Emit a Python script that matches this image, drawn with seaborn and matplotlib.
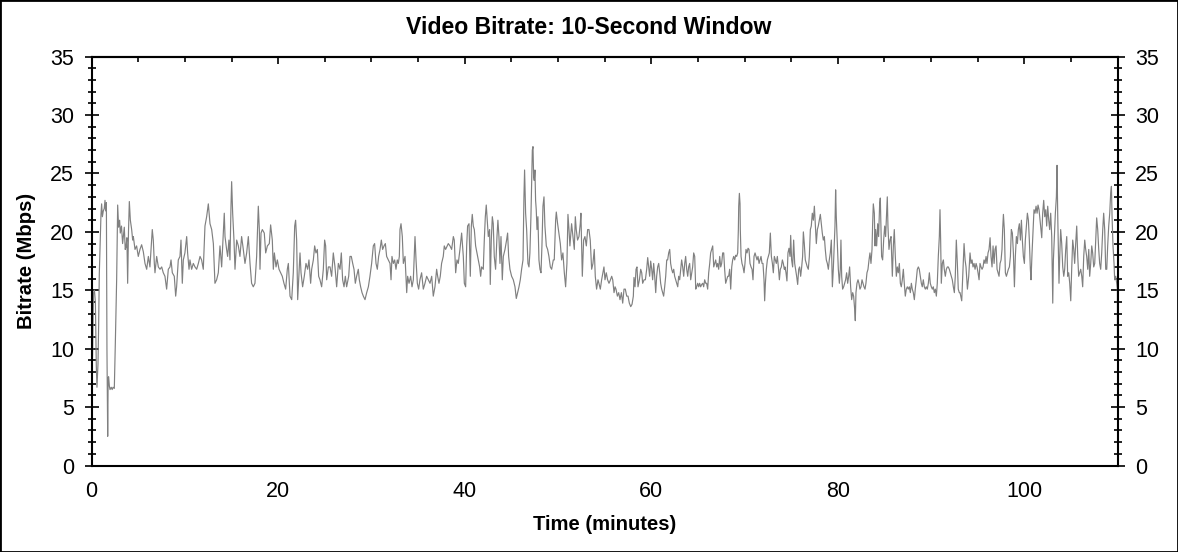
import numpy as np
import pandas as pd
import matplotlib
matplotlib.use("Agg")
import matplotlib.pyplot as plt
import seaborn as sns
from matplotlib.ticker import MultipleLocator
from matplotlib.patches import Rectangle

sns.set_theme(style="white")
plt.rcParams["font.family"] = ["Liberation Sans", "DejaVu Sans"]

# bitrate samples, split in six stretches of the film
minutes_a = [0.0, 0.1, 0.2, 0.3, 0.4, 0.5, 0.57, 0.68, 0.75, 0.82, 0.93, 1.0, 1.07, 1.15, 1.25, 1.35, 1.43, 1.5, 1.58, 1.64,
             1.72, 1.77, 1.82, 1.9, 1.97, 2.1, 2.2, 2.3, 2.43, 2.54, 2.68, 2.79, 2.89, 3.0, 3.07, 3.2, 3.32, 3.5, 3.6, 3.68,
             3.78, 3.86, 3.95, 4.04, 4.15, 4.29, 4.40, 4.47, 4.65, 4.82, 5.0, 5.18, 5.36, 5.54, 5.72, 5.9, 6.08, 6.25, 6.5, 6.61,
             6.72, 6.79, 6.97, 7.15, 7.33, 7.51, 7.68, 7.86, 8.04, 8.22, 8.4, 8.51, 8.65, 8.86, 9.01, 9.11, 9.29, 9.47, 9.58, 9.72,
             9.83, 10.0, 10.19, 10.29, 10.44, 10.54, 10.72, 10.9, 11.08, 11.26, 11.44, 11.62, 11.79, 11.97, 12.15, 12.33, 12.51, 12.69, 12.87, 13.05,
             13.22, 13.4, 13.58, 13.76, 13.94, 14.12, 14.22, 14.3, 14.47, 14.58, 14.72, 14.83, 14.94, 15.01, 15.12, 15.26, 15.37, 15.55, 15.73, 15.9,
             16.08, 16.26, 16.44, 16.62, 16.8, 16.98, 17.15, 17.33, 17.51, 17.69, 17.8, 17.87, 17.98, 18.05, 18.16, 18.3, 18.51]
mbps_a = [7.0, 9.5, 14.8, 15.0, 14.0, 8.5, 6.7, 8.7, 12.0, 16.4, 19.6, 21.5, 22.4, 21.3, 21.8, 22.0, 22.7, 21.8, 22.5, 10.0,
          2.5, 7.5, 7.6, 6.8, 6.5, 6.7, 6.5, 6.7, 6.6, 10.5, 15.9, 22.3, 20.4, 21.0, 19.9, 20.5, 19.0, 20.4, 18.5, 18.7,
          19.5, 15.6, 20.0, 22.6, 21.0, 20.2, 19.3, 19.6, 18.5, 18.8, 17.9, 18.5, 18.9, 18.3, 17.3, 16.8, 17.9, 17.0, 20.2, 19.3,
          17.3, 16.5, 17.9, 17.0, 16.8, 17.0, 16.5, 16.2, 15.1, 16.8, 17.0, 17.6, 16.5, 16.2, 14.5, 15.3, 17.6, 17.9, 19.3, 15.6,
          17.6, 18.2, 19.6, 18.2, 16.8, 17.6, 16.8, 17.3, 17.0, 16.8, 17.3, 17.9, 17.6, 16.8, 20.5, 21.3, 22.4, 20.7, 20.2, 19.0,
          15.6, 15.9, 16.5, 18.8, 17.0, 19.9, 21.6, 19.6, 18.5, 17.9, 19.3, 17.6, 22.2, 24.3, 21.6, 19.3, 16.8, 19.3, 18.8, 17.9,
          19.6, 18.5, 17.3, 18.2, 19.6, 17.3, 15.6, 15.3, 15.6, 17.9, 20.5, 22.2, 20.2, 16.8, 19.9, 20.2, 19.9]

minutes_b = [18.66, 18.84, 19.05, 19.19, 19.37, 19.48, 19.59, 19.77, 19.91, 20.09, 20.27, 20.44, 20.62, 20.8, 20.98, 21.09, 21.27, 21.45, 21.62, 21.77,
             21.87, 21.98, 22.09, 22.23, 22.34, 22.45, 22.62, 22.8, 22.98, 23.16, 23.3, 23.48, 23.59, 23.77, 23.91, 24.05, 24.2, 24.34, 24.48, 24.66,
             24.84, 24.98, 25.09, 25.2, 25.38, 25.56, 25.73, 25.91, 26.09, 26.27, 26.45, 26.63, 26.77, 26.91, 27.06, 27.2, 27.34, 27.56, 27.7, 27.84,
             27.99, 28.13, 28.27, 28.41, 28.59, 28.7, 28.84, 28.99, 29.13, 29.31, 29.49, 29.67, 29.84, 30.02, 30.2, 30.34, 30.49, 30.63, 30.77, 30.92,
             31.06, 31.2, 31.35, 31.49, 31.63, 31.81, 31.99, 32.1, 32.2, 32.35, 32.49, 32.63, 32.77, 32.88, 32.99, 33.06, 33.17, 33.31, 33.42, 33.6,
             33.78, 33.88, 34.03, 34.2, 34.35, 34.49, 34.67, 34.78, 34.92, 35.06, 35.2, 35.38, 35.56, 35.74, 35.92, 36.1, 36.28, 36.46, 36.63]
mbps_b = [18.2, 18.8, 19.0, 20.6, 19.3, 16.8, 18.2, 17.0, 17.6, 16.8, 16.5, 16.2, 15.6, 15.1, 16.8, 17.3, 14.5, 14.2, 16.5, 20.5,
          21.0, 19.3, 14.2, 16.5, 18.2, 16.5, 15.3, 16.2, 17.3, 16.8, 17.6, 15.6, 16.8, 17.6, 18.8, 18.2, 18.5, 16.2, 15.9, 15.3,
          16.8, 19.3, 18.8, 15.9, 17.0, 17.0, 16.2, 18.2, 17.0, 15.3, 17.3, 16.8, 18.2, 15.9, 15.3, 16.2, 15.3, 16.2, 17.9, 17.9,
          17.3, 16.8, 15.6, 16.2, 16.8, 15.9, 15.3, 14.8, 14.5, 14.2, 14.8, 15.3, 16.2, 17.3, 18.8, 19.0, 17.3, 16.8, 17.9, 18.5,
          19.3, 18.5, 18.8, 19.0, 17.9, 17.6, 17.3, 15.9, 17.9, 17.3, 17.6, 16.8, 17.6, 17.3, 17.9, 20.2, 20.7, 19.6, 17.3, 17.9,
          14.8, 16.2, 15.6, 16.2, 15.3, 15.9, 19.6, 17.6, 15.6, 15.1, 15.9, 16.5, 15.1, 15.6, 16.2, 15.9, 15.6, 16.2, 14.5]

minutes_c = [36.81, 36.99, 37.1, 37.24, 37.38, 37.52, 37.7, 37.81, 37.95, 38.13, 38.24, 38.42, 38.6, 38.78, 38.88, 39.03, 39.17, 39.31, 39.49, 39.67,
             39.85, 39.96, 40.1, 40.21, 40.31, 40.46, 40.6, 40.71, 40.81, 40.92, 41.03, 41.17, 41.31, 41.46, 41.6, 41.71, 41.81, 41.99, 42.1, 42.21,
             42.31, 42.42, 42.53, 42.67, 42.74, 42.85, 42.96, 43.06, 43.17, 43.31, 43.46, 43.56, 43.67, 43.78, 43.89, 44.03, 44.14, 44.32, 44.49, 44.6,
             44.71, 44.85, 45.03, 45.21, 45.39, 45.53, 45.67, 45.82, 45.96, 46.1, 46.25, 46.35, 46.42, 46.53, 46.64, 46.78, 46.89, 46.99, 47.1, 47.17,
             47.25, 47.32, 47.39, 47.46, 47.53, 47.6, 47.67, 47.75, 47.85, 47.96, 48.07, 48.18, 48.28, 48.39, 48.5, 48.6, 48.75, 48.89, 49.03, 49.18,
             49.32, 49.5, 49.6, 49.75, 49.82, 49.96, 50.1, 50.25, 50.39, 50.53, 50.68, 50.82, 50.96, 51.07, 51.18, 51.28, 51.46, 51.61, 51.75, 51.86,
             51.96, 52.1, 52.25, 52.39, 52.46, 52.61, 52.75, 52.89, 53.04, 53.18, 53.32, 53.46, 53.61, 53.75, 53.89, 54.0, 54.14, 54.29, 54.39, 54.54,
             54.68, 54.82, 54.93, 55.04, 55.18, 55.32, 55.47]
mbps_c = [15.3, 16.8, 16.2, 15.6, 16.2, 17.3, 17.9, 18.8, 18.5, 18.8, 19.0, 18.8, 18.5, 19.6, 19.3, 16.5, 17.6, 17.3, 18.5, 19.9,
          17.9, 15.6, 15.3, 18.8, 20.5, 20.7, 16.2, 20.5, 21.5, 20.5, 20.2, 18.8, 18.2, 17.6, 17.0, 16.2, 17.0, 16.8, 19.3, 21.3,
          22.3, 21.0, 19.6, 20.2, 15.5, 19.3, 21.3, 20.7, 17.9, 16.8, 19.6, 21.0, 19.6, 17.3, 19.6, 15.9, 17.9, 18.5, 19.3, 19.9,
          17.9, 16.8, 16.2, 15.9, 15.3, 14.3, 14.8, 15.3, 15.9, 16.8, 17.6, 23.0, 25.3, 21.6, 20.2, 17.3, 17.0, 18.2, 21.3, 24.1,
          27.0, 27.3, 24.7, 24.4, 25.3, 22.7, 21.9, 20.2, 21.3, 17.6, 16.8, 16.5, 18.8, 22.2, 23.0, 20.5, 18.8, 18.5, 17.9, 17.0,
          16.8, 17.6, 17.6, 21.0, 21.7, 20.7, 19.9, 19.0, 17.6, 18.2, 16.5, 15.3, 17.3, 21.5, 20.2, 18.8, 20.7, 19.6, 18.5, 21.3,
          20.2, 19.3, 19.6, 20.7, 21.6, 16.2, 19.3, 19.6, 18.8, 20.2, 20.2, 19.3, 16.8, 17.3, 18.5, 16.2, 15.1, 15.9, 15.6, 15.1,
          15.9, 16.5, 17.0, 15.9, 16.5, 15.9, 15.6]

minutes_d = [55.58, 55.76, 55.87, 56.01, 56.12, 56.22, 56.37, 56.51, 56.65, 56.8, 56.94, 57.08, 57.22, 57.37, 57.51, 57.65, 57.8, 57.94, 58.08, 58.15,
             58.26, 58.37, 58.47, 58.58, 58.73, 58.87, 58.98, 59.08, 59.23, 59.37, 59.51, 59.62, 59.73, 59.83, 59.94, 60.05, 60.15, 60.26, 60.37, 60.48,
             60.58, 60.69, 60.8, 60.91, 61.01, 61.12, 61.23, 61.33, 61.44, 61.55, 61.66, 61.76, 61.87, 61.98, 62.08, 62.19, 62.3, 62.41, 62.51, 62.62,
             62.73, 62.84, 62.94, 63.05, 63.16, 63.26, 63.37, 63.48, 63.59, 63.69, 63.8, 63.91, 64.01, 64.12, 64.23, 64.34, 64.44, 64.55, 64.66, 64.77,
             64.87, 64.98, 65.09, 65.19, 65.3, 65.41, 65.52, 65.62, 65.73, 65.84, 65.94, 66.05, 66.16, 66.27, 66.37, 66.48, 66.59, 66.7, 66.8, 66.91,
             67.02, 67.12, 67.23, 67.34, 67.45, 67.55, 67.66, 67.77, 67.87, 67.98, 68.09, 68.2, 68.3, 68.41, 68.52, 68.63, 68.73, 68.84, 68.95, 69.05,
             69.16, 69.27, 69.34, 69.38, 69.45, 69.52, 69.55, 69.63, 69.73, 69.84, 69.95, 70.05, 70.16, 70.27, 70.38, 70.48, 70.59, 70.7, 70.81, 70.91,
             71.02, 71.13, 71.23, 71.34, 71.45, 71.56, 71.66, 71.77, 71.88, 71.98, 72.09, 72.16, 72.24, 72.34, 72.45, 72.56, 72.66, 72.77, 72.88, 72.99,
             73.09, 73.2, 73.31, 73.41, 73.52, 73.63, 73.74, 73.84, 73.95, 74.06, 74.16, 74.27]
mbps_d = [15.8, 16.2, 15.9, 14.8, 15.3, 15.1, 14.5, 14.8, 14.2, 14.8, 13.9, 15.1, 15.1, 14.5, 14.5, 13.9, 13.6, 13.8, 14.5, 16.1,
          15.3, 16.8, 17.0, 15.3, 15.9, 16.8, 16.5, 15.6, 15.9, 15.9, 16.8, 17.8, 17.0, 16.2, 17.5, 16.8, 15.9, 17.3, 16.2, 14.8,
          16.2, 17.0, 17.3, 16.5, 15.6, 15.1, 14.8, 14.5, 15.3, 16.2, 17.6, 17.6, 18.2, 18.5, 17.3, 16.8, 16.5, 16.8, 16.2, 15.9,
          15.6, 15.3, 16.2, 15.9, 16.8, 17.6, 17.0, 16.2, 17.3, 17.9, 16.8, 16.2, 17.0, 17.3, 15.9, 16.5, 17.0, 18.2, 17.9, 15.1,
          15.3, 15.6, 15.3, 15.6, 15.3, 15.5, 15.6, 15.3, 15.9, 15.6, 15.6, 15.1, 16.5, 17.3, 18.2, 18.5, 18.8, 17.0, 17.3, 17.6,
          17.0, 17.3, 16.8, 17.9, 17.0, 17.3, 18.2, 18.2, 16.8, 15.6, 15.9, 16.2, 16.2, 16.8, 15.1, 17.0, 17.6, 17.9, 17.6, 18.0,
          17.9, 18.2, 20.2, 22.2, 23.3, 22.4, 20.2, 17.9, 17.3, 17.0, 16.5, 17.3, 18.5, 18.2, 18.6, 18.5, 17.3, 17.0, 16.8, 15.9,
          17.9, 18.2, 17.9, 17.6, 17.9, 17.3, 17.6, 17.9, 17.3, 17.3, 15.9, 14.1, 15.6, 16.8, 17.6, 17.9, 18.2, 19.9, 17.9, 17.3,
          16.5, 17.9, 17.6, 17.3, 17.9, 17.0, 15.9, 16.8, 17.0, 17.6, 17.3, 16.8]

minutes_e = [74.34, 74.45, 74.55, 74.66, 74.77, 74.88, 74.95, 75.05, 75.16, 75.27, 75.38, 75.48, 75.59, 75.7, 75.81, 75.91, 76.02, 76.13, 76.23, 76.31,
             76.41, 76.52, 76.63, 76.73, 76.84, 76.95, 77.06, 77.16, 77.27, 77.38, 77.49, 77.59, 77.7, 77.81, 77.91, 78.02, 78.13, 78.24, 78.34, 78.45,
             78.56, 78.66, 78.77, 78.88, 78.99, 79.09, 79.2, 79.31, 79.42, 79.52, 79.63, 79.7, 79.77, 79.84, 79.95, 80.06, 80.17, 80.27, 80.34, 80.42,
             80.52, 80.63, 80.74, 80.84, 80.95, 81.06, 81.17, 81.27, 81.38, 81.49, 81.6, 81.7, 81.81, 81.88, 81.95, 82.06, 82.17, 82.27, 82.38, 82.49,
             82.6, 82.7, 82.81, 82.92, 83.02, 83.13, 83.24, 83.35, 83.45, 83.56, 83.67, 83.74, 83.81, 83.92, 83.99, 84.06, 84.17, 84.28, 84.38, 84.49,
             84.56, 84.63, 84.7, 84.81, 84.92, 85.03, 85.13, 85.24, 85.31, 85.38, 85.49, 85.6, 85.71, 85.78, 85.85, 85.96, 86.06, 86.17, 86.28, 86.38,
             86.49, 86.6, 86.71, 86.81, 86.92, 87.03, 87.13, 87.24, 87.35, 87.46, 87.56, 87.67, 87.78, 87.89, 87.99, 88.1, 88.21, 88.31, 88.42, 88.53,
             88.64, 88.74, 88.85, 88.96, 89.06, 89.17, 89.28, 89.39, 89.49, 89.6, 89.71, 89.82, 89.92, 90.03, 90.14, 90.24, 90.35, 90.46, 90.57, 90.67,
             90.78, 90.89, 90.96, 91.03, 91.1, 91.21, 91.32, 91.42, 91.53, 91.64, 91.75, 91.85, 91.96, 92.07, 92.17, 92.28, 92.39, 92.5, 92.6, 92.71,
             92.82, 92.92, 93.03]
mbps_e = [17.0, 16.5, 15.8, 18.2, 18.6, 17.9, 19.7, 17.6, 17.0, 19.3, 17.3, 16.8, 16.2, 15.5, 16.8, 17.0, 16.2, 17.0, 17.9, 20.0,
          19.0, 17.6, 17.3, 17.0, 16.8, 17.9, 20.2, 20.5, 21.6, 21.0, 22.2, 20.7, 19.0, 20.2, 20.5, 21.0, 21.5, 20.7, 19.9, 19.3,
          19.6, 18.5, 17.6, 17.3, 16.8, 17.6, 18.2, 19.3, 15.3, 16.8, 19.0, 20.5, 23.6, 21.3, 19.0, 16.8, 15.6, 16.8, 19.3, 16.2,
          15.1, 15.3, 15.6, 15.9, 16.5, 15.6, 16.2, 17.0, 15.3, 14.2, 14.8, 14.5, 13.4, 12.4, 14.8, 15.6, 15.9, 15.6, 15.1, 15.3,
          15.9, 15.6, 15.3, 15.1, 15.6, 16.5, 16.8, 17.6, 18.2, 17.3, 18.5, 20.7, 22.4, 21.6, 18.8, 20.2, 18.8, 20.7, 19.6, 22.4,
          22.9, 20.2, 17.9, 17.6, 19.3, 20.5, 19.6, 21.6, 23.0, 20.5, 18.5, 19.3, 19.6, 17.9, 16.2, 18.8, 20.2, 17.9, 16.2, 17.0,
          16.5, 17.3, 15.6, 15.3, 15.9, 16.8, 15.6, 14.5, 15.1, 15.3, 15.1, 15.3, 14.8, 15.6, 15.1, 14.8, 14.2, 15.1, 15.9, 16.8,
          17.0, 16.8, 16.2, 15.6, 15.3, 15.9, 15.3, 15.1, 15.3, 15.1, 15.6, 16.5, 15.6, 15.3, 15.1, 15.3, 14.8, 15.1, 14.5, 15.6,
          17.9, 19.6, 21.9, 19.3, 15.6, 17.3, 17.6, 16.8, 16.2, 16.8, 17.0, 17.0, 16.8, 16.5, 16.2, 15.9, 15.3, 14.8, 16.2, 19.3,
          17.3, 15.1, 14.8]

minutes_f = [93.11, 93.29, 93.4, 93.54, 93.65, 93.75, 93.9, 94.04, 94.18, 94.29, 94.4, 94.5, 94.61, 94.72, 94.83, 94.93, 95.04, 95.15, 95.25, 95.36,
             95.47, 95.58, 95.68, 95.79, 95.9, 96.0, 96.11, 96.22, 96.33, 96.43, 96.54, 96.65, 96.76, 96.86, 96.97, 97.08, 97.18, 97.29, 97.4, 97.51,
             97.61, 97.68, 97.76, 97.86, 97.97, 98.08, 98.19, 98.29, 98.4, 98.51, 98.61, 98.72, 98.83, 98.94, 99.04, 99.15, 99.26, 99.36, 99.47, 99.58,
             99.69, 99.79, 99.9, 100.01, 100.11, 100.22, 100.33, 100.44, 100.54, 100.65, 100.72, 100.83, 100.94, 101.04, 101.15, 101.26, 101.37, 101.47, 101.58, 101.69,
             101.79, 101.87, 101.97, 102.08, 102.19, 102.3, 102.4, 102.51, 102.62, 102.72, 102.83, 102.94, 103.05, 103.12, 103.22, 103.33, 103.44, 103.51, 103.58, 103.65,
             103.72, 103.8, 103.9, 104.01, 104.12, 104.23, 104.33, 104.44, 104.55, 104.65, 104.76, 104.87, 104.98, 105.08, 105.19, 105.3, 105.4, 105.51, 105.62, 105.73,
             105.83, 105.94, 106.05, 106.16, 106.26, 106.37, 106.48, 106.58, 106.69, 106.8, 106.91, 107.01, 107.12, 107.23, 107.33, 107.44, 107.55, 107.66, 107.76, 107.87,
             107.98, 108.08, 108.19, 108.3, 108.41, 108.51, 108.62, 108.73, 108.84, 108.94, 109.05, 109.16, 109.26, 109.34, 109.41, 109.51, 109.62, 109.69, 109.8, 109.91,
             109.98, 110.0]
mbps_f = [14.8, 14.1, 16.2, 19.0, 17.6, 17.0, 15.1, 16.2, 18.2, 17.3, 17.6, 17.0, 17.3, 16.8, 17.3, 17.0, 16.5, 15.9, 17.3, 17.0,
          16.8, 17.0, 17.6, 17.3, 17.9, 17.3, 18.2, 18.5, 19.5, 17.9, 17.0, 18.8, 17.3, 18.5, 18.8, 16.8, 16.5, 16.2, 17.3, 17.6,
          18.5, 20.2, 21.5, 20.2, 16.5, 16.2, 16.5, 16.8, 17.0, 17.9, 20.2, 19.9, 18.2, 15.3, 17.9, 19.6, 19.0, 20.2, 20.7, 19.3,
          21.0, 19.3, 17.9, 17.3, 19.3, 20.5, 21.6, 21.0, 19.3, 16.8, 15.9, 18.2, 20.2, 21.9, 21.6, 22.2, 21.6, 22.3, 21.9, 21.0,
          20.2, 19.5, 21.6, 22.7, 21.3, 21.9, 20.5, 22.2, 21.0, 20.2, 21.6, 19.6, 13.9, 17.6, 19.6, 21.6, 23.0, 25.7, 21.6, 18.8,
          15.6, 17.9, 20.2, 19.0, 17.0, 16.2, 16.8, 18.5, 19.6, 16.2, 16.5, 15.6, 14.1, 16.8, 19.3, 18.5, 17.3, 19.0, 20.5, 17.9,
          16.2, 16.5, 16.8, 16.2, 15.3, 17.9, 19.3, 18.5, 17.9, 16.8, 18.5, 16.2, 17.3, 18.8, 18.2, 17.0, 17.3, 19.3, 21.2, 20.2,
          18.5, 17.3, 16.8, 18.2, 20.2, 21.6, 20.2, 16.8, 16.8, 18.8, 20.5, 21.6, 23.3, 23.9, 21.3, 18.8, 17.3, 15.9, 16.2, 15.6,
          15.1, 9.5]

df = pd.DataFrame({
    "minutes": np.concatenate([minutes_a, minutes_b, minutes_c, minutes_d, minutes_e, minutes_f]),
    "mbps": np.concatenate([mbps_a, mbps_b, mbps_c, mbps_d, mbps_e, mbps_f]),
})

fig = plt.figure(figsize=(11.78, 5.52), dpi=100)
ax = fig.add_axes([0.0778, 0.1567, 0.8709, 0.7406])

sns.lineplot(data=df, x="minutes", y="mbps", ax=ax, color="#808080", linewidth=0.85,
             estimator=None, sort=False)

ax.set_xlim(0, 110)
ax.set_ylim(0, 35)
ax.xaxis.set_major_locator(MultipleLocator(20))
ax.xaxis.set_minor_locator(MultipleLocator(5))
ax.yaxis.set_major_locator(MultipleLocator(5))
ax.yaxis.set_minor_locator(MultipleLocator(1))

for s in ax.spines.values():
    s.set_color("black")
    s.set_linewidth(1.5)

ax.tick_params(axis="x", which="major", direction="inout", length=10, width=1.2,
               colors="black", labelsize=15.5, pad=6)
ax.tick_params(axis="x", which="minor", direction="out", length=3.6, width=1.2, colors="black")
ax.tick_params(axis="y", which="major", direction="inout", length=9.5, width=1.2, colors="black",
               labelsize=15.5, pad=8, left=True, right=True, labelleft=True, labelright=True)
ax.tick_params(axis="y", which="minor", direction="inout", length=5.5, width=1.2, colors="black",
               left=True, right=True)

top = ax.secondary_xaxis("top")
top.xaxis.set_major_locator(MultipleLocator(20))
top.xaxis.set_minor_locator(MultipleLocator(5))
top.tick_params(axis="x", which="major", direction="in", length=5, width=1.2, colors="black", labeltop=False)
top.tick_params(axis="x", which="minor", direction="in", length=3.3, width=1.2, colors="black")
top.spines["top"].set_linewidth(1.5)

ax.set_xlabel("Time (minutes)", fontsize=14.6, fontweight="bold", color="black")
ax.set_ylabel("Bitrate (Mbps)", fontsize=14.6, fontweight="bold", color="black")
ax.xaxis.set_label_coords(0.5, -0.12)
ax.yaxis.set_label_coords(-0.054, 0.5)

fig.text(0.5, 1 - 28 / 552, "Video Bitrate: 10-Second Window", ha="center", va="center",
         fontsize=16.6, fontweight="bold", color="black")

fig.patches.append(Rectangle((0, 0), 1, 1, transform=fig.transFigure, fill=False,
                             edgecolor="black", linewidth=2))

fig.savefig("out.png", dpi=100)
